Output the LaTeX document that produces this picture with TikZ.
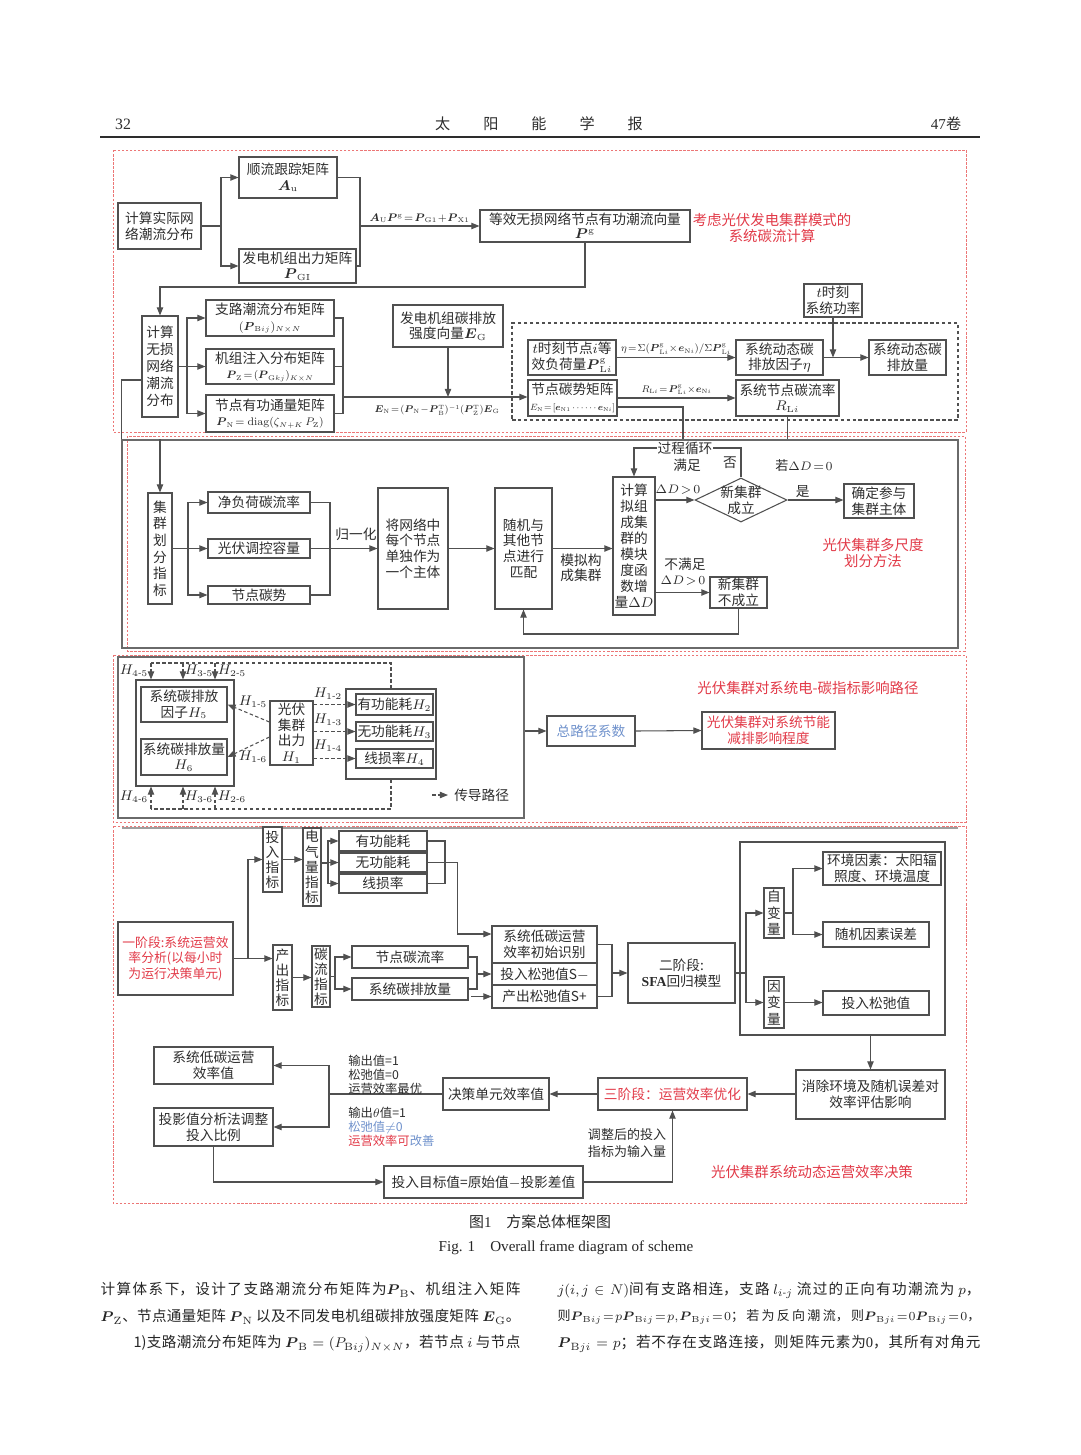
\documentclass[tikz,border=0pt]{standalone}
\usepackage{amsmath, amssymb}
\usepackage{graphicx}
\usepackage[no-math]{fontspec}
\setmainfont{Noto Sans CJK SC}
\newfontfamily\tnr{Liberation Serif}
\XeTeXlinebreaklocale "zh"
\XeTeXlinebreakskip=0pt plus 2pt
\usetikzlibrary{arrows.meta, shapes.geometric}

\definecolor{boxc}{RGB}{80,80,80}
\definecolor{txt}{RGB}{45,45,45}
\definecolor{lred}{RGB}{226,58,72}
\definecolor{dashred}{RGB}{236,118,118}
\definecolor{lblue}{RGB}{112,146,204}

\begin{document}
\begin{tikzpicture}[x=0.02cm, y=-0.02cm, line width=0.6pt, color=boxc,
  every node/.style={text=txt, font=\fontsize{7.8pt}{8.9pt}\selectfont},
  sz/.style 2 args={minimum width=#1*0.02cm, minimum height=#2*0.02cm},
  blk/.style={draw=boxc, fill=white, inner sep=0pt, align=center},
  vblk/.style={blk, font=\fontsize{7.8pt}{9.4pt}\selectfont},
  lab/.style={inner sep=1pt, align=center},
  eq/.style={lab, inner sep=0.5pt},
  rlab/.style={lab, text=lred, font=\fontsize{8.2pt}{9.6pt}\selectfont},
  arr/.style={draw=boxc, -{Triangle[length=4.6pt, width=3.6pt]}},
  darr/.style={arr, dash pattern=on 2pt off 1.4pt},
  dline/.style={draw=boxc, dash pattern=on 2pt off 1.4pt},
  secbox/.style={draw=dashred, line width=0.5pt, dash pattern=on 1.4pt off 0.9pt},
  frm/.style={draw=boxc!85, line width=0.7pt, inner sep=0pt},
  bodyl/.style={anchor=west, text width=8.4cm, align=justify, inner sep=0pt, text=black!85, font=\fontsize{8.3pt}{10pt}\selectfont}]
  \useasboundingbox[fill=white] (0,0) rectangle (1080,1455);

  % page header
  \node[font=\tnr\fontsize{9pt}{10pt}\selectfont] (pgno) at (123,124) {32};
  \node[font=\fontsize{8.6pt}{10pt}\selectfont] (journal) at (539,124) {太\hspace{0.66cm}阳\hspace{0.66cm}能\hspace{0.66cm}学\hspace{0.66cm}报};
  \node[font=\fontsize{8.6pt}{10pt}\selectfont] (vol) at (946,124) {{\tnr 47}卷};
  \draw[line width=0.9pt, color=txt] (100,137) -- (980,137);

  % red dashed sections
  \draw[secbox] (113,150) rectangle (966,432);
  \draw[secbox] (127,436) rectangle (965,651);
  \draw[secbox] (113,655) rectangle (966,822);
  \draw[secbox] (113,826) rectangle (966,1203);
  \node[frm, sz={836}{208}] (frame2) at (540,544) {};
  \node[frm, sz={406}{161}] (frame3) at (321,737.5) {};
  \draw[frm, draw=boxc!55] (122,828) -- (958,828);

  % carbon flow calculation
  \node[blk, sz={83}{46}] (actual) at (159.5,226) {计算实际网\\络潮流分布};
  \node[blk, sz={98}{41}] (track) at (288,177.5) {顺流跟踪矩阵\\$\boldsymbol{A}_{\mathrm{u}}$};
  \node[blk, sz={117}{34}] (genout) at (297.5,266) {发电机组出力矩阵\\$\boldsymbol{P}_{\mathrm{GI}}$};
  \node[blk, sz={210}{32}] (pgvec) at (585,226) {等效无损网络节点有功潮流向量\\[-1pt]$\boldsymbol{P}^{\mathrm{g}}$};
  \node[rlab] (title1) at (772,228) {考虑光伏发电集群模式的\\系统碳流计算};
  \node[vblk, font=\fontsize{7.8pt}{9.6pt}\selectfont, sz={36}{101}] (lossless) at (160,366.5) {计算\\无损\\网络\\潮流\\分布};
  \node[blk, sz={128}{36}] (branchm) at (270,318) {支路潮流分布矩阵\\\resizebox{1.25cm}{!}{$(\boldsymbol{P}_{\mathrm{B}ij})_{N\times N}$}};
  \node[blk, sz={128}{35}] (injm) at (270,366.5) {机组注入分布矩阵\\\resizebox{1.75cm}{!}{$\boldsymbol{P}_{\mathrm{Z}}\!=\!(\boldsymbol{P}_{\mathrm{G}kj})_{K\times N}$}};
  \node[blk, sz={128}{37}] (fluxm) at (270,413.5) {节点有功通量矩阵\\\resizebox{2.15cm}{!}{$\boldsymbol{P}_{\mathrm{N}}\!=\mathrm{diag}(\zeta_{N+K}\,P_{\mathrm{Z}})$}};
  \node[blk, sz={110}{42}] (emis) at (448,326) {发电机组碳排放\\强度向量$\boldsymbol{E}_{\mathrm{G}}$};
  \node[dline, inner sep=0pt, sz={446}{97}] (grp) at (735,371.5) {};
  \node[blk, sz={88}{35}] (tload) at (572,357.5) {$t$时刻节点$i$等\\效负荷量$\boldsymbol{P}^{\mathrm{g}}_{\mathrm{L}i}$};
  \node[blk, sz={89}{36}] (ncarb) at (572.5,398) {节点碳势矩阵\\\resizebox{1.7cm}{!}{$E_{\mathrm{N}}\!=\![\boldsymbol{e}_{\mathrm{N}1}\cdots\cdots\boldsymbol{e}_{\mathrm{N}i}]$}};
  \node[blk, sz={87}{35}] (dynf) at (779.5,357.5) {系统动态碳\\排放因子$\eta$};
  \node[blk, sz={77}{35}] (dyne) at (907.5,357.5) {系统动态碳\\排放量};
  \node[blk, sz={58}{33}] (power) at (833,300.5) {$t$时刻\\系统功率};
  \node[blk, sz={103}{36}] (rate) at (787.5,398) {系统节点碳流率\\$R_{\mathrm{L}i}$};

  \coordinate (split1) at (221,226);
  \coordinate (join1) at (360,226);
  \draw (actual.east) -- (split1);
  \draw[arr] (split1) |- (track.west);
  \draw[arr] (split1) |- (genout.west);
  \draw (track.east) -| (join1) |- (genout.east);
  \draw[arr] (join1) -- (pgvec.west) node[eq, midway, above=1pt] (eqau) {\resizebox{2.0cm}{!}{$\boldsymbol{A}_{\mathrm{U}}\boldsymbol{P}^{\mathrm{g}}\!=\!\boldsymbol{P}_{\mathrm{G1}}\!+\!\boldsymbol{P}_{\mathrm{X1}}$}};
  \draw[arr] (pgvec.south) |- (lossless.north |- 0,287) -- (lossless.north);
  \coordinate (split2) at (187,366.5);
  \draw (lossless.east) -- (split2);
  \draw[arr] (split2) |- (branchm.west);
  \draw[arr] (split2) |- (injm.west);
  \draw[arr] (split2) |- (fluxm.west);
  \coordinate (join2) at (343,397);
  \draw (branchm.east) -| (join2) |- (fluxm.east);
  \draw (injm.east) -- (injm.east -| join2);
  \draw[arr] (join2) -- (join2 -| ncarb.west);
  \draw[arr] (emis.south) -- (emis.south |- join2);
  \node[eq] (eqen) at (437,410) {\resizebox{2.5cm}{!}{$\boldsymbol{E}_{\mathrm{N}}\!=\!(\boldsymbol{P}_{\mathrm{N}}\!-\!\boldsymbol{P}^{\mathrm{T}}_{\mathrm{B}})^{-1}(\boldsymbol{P}^{\mathrm{T}}_{\mathrm{Z}})\boldsymbol{E}_{\mathrm{G}}$}};
  \draw[arr] (tload.east) -- (dynf.west) node[eq, midway, above=1pt] (eqeta) {\resizebox{2.2cm}{!}{$\eta\!=\!\Sigma(\boldsymbol{P}^{\mathrm{g}}_{\mathrm{L}i}\!\times\!\boldsymbol{e}_{\mathrm{N}i})/\Sigma\boldsymbol{P}^{\mathrm{g}}_{\mathrm{L}i}$}};
  \draw[arr] (dynf.east) -- (dyne.west);
  \draw[arr] (power.south) -- (power.south |- dynf.east);
  \draw[arr] (ncarb.east) -- (rate.west) node[eq, midway, above=1pt] (eqrl) {\resizebox{1.4cm}{!}{$R_{\mathrm{L}i}\!=\!\boldsymbol{P}^{\mathrm{g}}_{\mathrm{L}i}\!\times\!\boldsymbol{e}_{\mathrm{N}i}$}};
  \draw (ncarb.east |- 0,407) -| (frame2.north -| 683,0);
  \draw (rate.south) -- (rate.south |- frame2.north);
  \draw (lossless.west |- 0,380) -| (frame2.north west);

  % multi-scale cluster partition
  \node[vblk, sz={24}{111}] (clusidx) at (160,548.5) {集\\群\\划\\分\\指\\标};
  \node[blk, sz={102}{21}] (netload) at (259,502.5) {净负荷碳流率};
  \node[blk, sz={102}{19}] (pvcap) at (259,548.5) {光伏调控容量};
  \node[blk, sz={102}{18}] (ncpot) at (259,595) {节点碳势};
  \node[blk, sz={70}{121}] (single) at (413,548.5) {将网络中\\每个节点\\单独作为\\一个主体};
  \node[blk, sz={57}{121}] (match) at (523.5,548.5) {随机与\\其他节\\点进行\\匹配};
  \node[blk, font=\fontsize{7.8pt}{9.1pt}\selectfont, sz={42}{138}] (modul) at (634,546) {计算\\拟组\\成集\\群的\\模块\\度函\\数增\\量$\Delta D$};
  \node[draw=boxc, fill=white, diamond, aspect=2.1, inner xsep=0pt, inner ysep=-2pt, minimum width=1.84cm, minimum height=0.88cm, align=center] (newc) at (741,500) {新集群\\成立};
  \node[blk, sz={70}{34}] (confirm) at (879,501) {确定参与\\集群主体};
  \node[blk, sz={57}{31}] (notnew) at (738.5,592.5) {新集群\\不成立};
  \node[rlab] (title2) at (873,553) {光伏集群多尺度\\划分方法};

  \draw[arr] (frame2.north -| clusidx.north) -- (clusidx.north);
  \coordinate (split3) at (188,548.5);
  \draw (clusidx.east) -- (split3);
  \draw[arr] (split3) |- (netload.west);
  \draw[arr] (split3) |- (pvcap.west);
  \draw[arr] (split3) |- (ncpot.west);
  \draw (netload.east) -| (ncpot.east -| 330,0) -- (ncpot.east);
  \draw[arr] (pvcap.east) -- (pvcap.east -| single.west);
  \node[lab] (norm) at (356,534) {归一化};
  \draw[arr] (single.east) -- (match.west);
  \draw[arr] (match.east) -- (match.east -| modul.west);
  \node[lab] (simul) at (581,568) {模拟构\\成集群};
  \draw[arr] (modul.east |- newc.west) -- (newc.west);
  \node[lab, font=\fontsize{6.6pt}{8pt}\selectfont] (dpos) at (678,490) {$\Delta D\!>\!0$};
  \draw[arr] (newc.east) -- (newc.east -| confirm.west) node[lab, pos=0.27, above] (yes) {是};
  \node[lab, font=\fontsize{7.4pt}{8pt}\selectfont] (dzero) at (804,466) {若$\Delta D\!=\!0$};
  \draw[arr] (newc.north) |- (modul.north |- 0,448) -- (modul.north);
  \node[lab, fill=white, inner sep=0.5pt] (loopl) at (685,448) {过程循环};
  \node[lab] (meet) at (687,465) {满足};
  \node[lab] (no) at (730,463) {否};
  \draw[arr] (modul.east |- notnew.west) -- (notnew.west);
  \node[lab] (unmeet) at (685,564) {不满足};
  \node[lab, font=\fontsize{6.6pt}{8pt}\selectfont] (dpos2) at (683,581) {$\Delta D\!>\!0$};
  \draw[arr] (notnew.south) |- (match.south |- 0,634) -- (match.south);

  % influence paths of the PV cluster
  \node[blk, sz={98}{106}] (carbgrp) at (185,733) {};
  \node[blk, sz={86}{35}] (hfive) at (184,704.5) {系统碳排放\\因子$H_5$};
  \node[blk, sz={86}{36}] (hsix) at (184,757) {系统碳排放量\\$H_6$};
  \node[blk, sz={43}{64}] (hone) at (291.5,733) {光伏\\集群\\出力\\$H_1$};
  \node[blk, sz={90}{90}] (elecgrp) at (391,734) {};
  \node[blk, sz={77}{21}] (htwo) at (394.5,704.5) {有功能耗$H_2$};
  \node[blk, sz={77}{19}] (hthree) at (394.5,731.5) {无功能耗$H_3$};
  \node[blk, sz={77}{19}] (hfour) at (394.5,758.5) {线损率$H_4$};
  \node[blk, text=lblue, sz={88}{30}] (total) at (591,731) {总路径系数};
  \node[blk, text=lred, sz={133}{37}] (impact) at (768.5,730.5) {光伏集群对系统节能\\减排影响程度};
  \node[rlab] (title3) at (808,688) {光伏集群对系统电-碳指标影响路径};

  \draw[darr] (hone.east |- htwo.west) -- (htwo.west);
  \draw[darr] (hone.east |- hthree.west) -- (hthree.west);
  \draw[darr] (hone.east |- hfour.west) -- (hfour.west);
  \node[lab] (h12) at (328,694) {$H_{1\text{-}2}$};
  \node[lab] (h13) at (328,720) {$H_{1\text{-}3}$};
  \node[lab] (h14) at (328,746) {$H_{1\text{-}4}$};
  \draw[darr] (hone.west |- 0,722) -- (hfive.east);
  \draw[darr] (hone.west |- 0,737) -- (hsix.east);
  \node[lab] (h15) at (253,702) {$H_{1\text{-}5}$};
  \node[lab] (h16) at (253,757) {$H_{1\text{-}6}$};
  \draw[dline] (elecgrp.north) |- (151,663);
  \foreach \xx in {151,183,215} \draw[darr] (\xx,663) -- (carbgrp.north -| \xx,0);
  \draw[dline] (elecgrp.south) |- (151,809);
  \foreach \xx in {151,183,215} \draw[darr] (\xx,809) -- (carbgrp.south -| \xx,0);
  \node[lab] (h45) at (134,671) {$H_{4\text{-}5}$};
  \node[lab] (h35) at (199,671) {$H_{3\text{-}5}$};
  \node[lab] (h25) at (232,671) {$H_{2\text{-}5}$};
  \node[lab] (h46) at (134,797) {$H_{4\text{-}6}$};
  \node[lab] (h36) at (199,797) {$H_{3\text{-}6}$};
  \node[lab] (h26) at (232,797) {$H_{2\text{-}6}$};
  \coordinate (legs) at (432,795);
  \draw[darr] (legs) -- ++(16,0);
  \node[lab, anchor=west] (legt) at (452,795) {传导路径};
  \draw[arr] (frame3.east |- total.west) -- (total.west);
  \draw[arr] (total.east) -- (impact.west);

  % dynamic operating efficiency decision
  \node[blk, text=lred, font=\fontsize{7.3pt}{8.9pt}\selectfont, sz={115}{73}] (stagea) at (175.5,958.5) {一阶段:系统运营效\\率分析(以每小时\\为运行决策单元)};
  \node[vblk, font=\fontsize{7.8pt}{8.6pt}\selectfont, sz={19}{65}] (inind) at (272.5,859.5) {投\\入\\指\\标};
  \node[vblk, font=\fontsize{7.8pt}{8.6pt}\selectfont, sz={18}{78}] (elecind) at (312,867) {电\\气\\量\\指\\标};
  \node[blk, sz={88}{20}] (actl) at (383,841) {有功能耗};
  \node[blk, sz={88}{19}] (reactl) at (383,862.5) {无功能耗};
  \node[blk, sz={88}{19}] (lossr) at (383,883.5) {线损率};
  \node[vblk, font=\fontsize{7.8pt}{8.6pt}\selectfont, sz={19}{65}] (outind) at (282.5,977.5) {产\\出\\指\\标};
  \node[vblk, font=\fontsize{7.8pt}{8.6pt}\selectfont, sz={18}{61}] (cfind) at (321,976.5) {碳\\流\\指\\标};
  \node[blk, sz={116}{22}] (ncrate) at (410,957) {节点碳流率};
  \node[blk, sz={116}{22}] (semis) at (410,989) {系统碳排放量};
  \node[blk, sz={105}{37}] (lcid) at (544.5,944.5) {系统低碳运营\\效率初始识别};
  \node[blk, sz={105}{22}] (islk) at (544.5,974) {投入松弛值S$-$};
  \node[blk, sz={105}{23}] (oslk) at (544.5,996.5) {产出松弛值S+};
  \node[blk, sz={107}{60}] (sfabox) at (681.5,973) {二阶段:\\{\tnr\bfseries SFA}回归模型};
  \node[blk, sz={205}{193}] (bigv) at (842.5,938.5) {};
  \node[vblk, sz={20}{50}] (indep) at (774,913) {自\\变\\量};
  \node[vblk, sz={20}{51}] (depv) at (774,1002.5) {因\\变\\量};
  \node[blk, sz={118}{33}] (envf) at (882,868.5) {环境因素：太阳辐\\照度、环境温度};
  \node[blk, sz={106}{25}] (randf) at (876,934.5) {随机因素误差};
  \node[blk, sz={106}{24}] (islkb) at (876,1003) {投入松弛值};
  \node[blk, sz={149}{49}] (elim) at (870.5,1094.5) {消除环境及随机误差对\\效率评估影响};
  \node[blk, text=lred, sz={149}{32}] (stagec) at (672.5,1094) {三阶段：运营效率优化};
  \node[blk, sz={106}{32}] (decv) at (496,1094) {决策单元效率值};
  \node[blk, sz={119}{37}] (lcval) at (213.5,1065.5) {系统低碳运营\\效率值};
  \node[blk, sz={119}{38}] (projv) at (213.5,1127) {投影值分析法调整\\投入比例};
  \node[blk, sz={199}{32}] (target) at (483.5,1182) {投入目标值=原始值$-$投影差值};
  \node[rlab] (title4) at (812,1172) {光伏集群系统动态运营效率决策};

  \coordinate (split4) at (248,958.5);
  \draw[arr] (stagea.east) -- (stagea.east -| outind.west);
  \draw[arr] (split4) |- (inind.west);
  \draw[arr] (inind.east) -- (inind.east -| elecind.west);
  \coordinate (split5) at (328,863);
  \draw (elecind.east |- split5) -- (split5);
  \draw[arr] (split5) |- (actl.west);
  \draw[arr] (split5) |- (reactl.west);
  \draw[arr] (split5) |- (lossr.west);
  \draw (actl.east) -| (lossr.east -| 445,0) -- (lossr.east);
  \draw[arr] (reactl.east) -- ++(30,0) |- (lcid.west |- 0,934);
  \draw[arr] (outind.east) -- (outind.east -| cfind.west);
  \coordinate (split6) at (335,976.5);
  \draw (cfind.east) -- (split6);
  \draw[arr] (split6) |- (ncrate.west);
  \draw[arr] (split6) |- (semis.west);
  \draw (ncrate.east) -| (semis.east -| 477,0) -- (semis.east);
  \draw[arr] (islk.west -| 477,0) -- (islk.west);
  \draw[arr] (oslk.west -| 471,0) -- (oslk.west);
  \draw (lcid.east) -| (oslk.east -| 612,0) -- (oslk.east);
  \draw[arr] (sfabox.west -| 612,0) -- (sfabox.west);
  \coordinate (split7) at (746,973);
  \draw (sfabox.east) -- (split7);
  \draw[arr] (split7) |- (indep.west);
  \draw[arr] (split7) |- (depv.west);
  \coordinate (split8) at (793,913);
  \draw (indep.east) -- (split8);
  \draw[arr] (split8) |- (envf.west);
  \draw[arr] (split8) |- (randf.west);
  \draw[arr] (depv.east) -- (depv.east -| islkb.west);
  \draw[arr] (elim.north |- bigv.south) -- (elim.north);
  \draw[arr] (elim.west |- stagec.east) -- (stagec.east);
  \draw[arr] (stagec.west) -- (decv.east);
  \coordinate (split9) at (329,1094);
  \draw (decv.west) -- (split9);
  \draw[arr] (split9) |- (lcval.east);
  \draw[arr] (split9) |- (projv.east);
  \node[lab, anchor=north west, align=left, font=\fontsize{7pt}{7.9pt}\selectfont] (optl) at (346,1053) {输出值=1\\松弛值=0\\运营效率最优};
  \node[lab, anchor=north west, align=left, font=\fontsize{7pt}{7.9pt}\selectfont] (imprl) at (346,1105) {输出$\theta$值=1\\\textcolor{lblue}{松弛值$\neq$0}\\\textcolor{lred}{运营效率可}\textcolor{lblue}{改善}};
  \draw[arr] (projv.south) |- (target.west);
  \draw[arr] (target.east) -| (stagec.south);
  \node[lab, font=\fontsize{7.4pt}{9.4pt}\selectfont] (adjl) at (627,1143) {调整后的投入\\指标为输入量};

  % caption and body text
  \node[font=\fontsize{8.5pt}{10pt}\selectfont, text=black!85] (capcn) at (540,1222) {图{\tnr 1}\quad 方案总体框架图};
  \node[font=\tnr\fontsize{8.6pt}{10pt}\selectfont, text=black!85] (capen) at (566,1248) {Fig. 1\quad Overall frame diagram of scheme};
  \node[bodyl] (la) at (100,1290) {\tolerance=10000\parfillskip=0pt\relax 计算体系下，设计了支路潮流分布矩阵为$\boldsymbol{P}_{\mathrm{B}}$、机组注入矩阵\par};
  \node[bodyl] (lb) at (100,1317) {\tolerance=10000\parfillskip=0pt\relax $\boldsymbol{P}_{\mathrm{Z}}$、节点通量矩阵 $\boldsymbol{P}_{\mathrm{N}}$ 以及不同发电机组碳排放强度矩阵 $\boldsymbol{E}_{\mathrm{G}}$。\par};
  \node[bodyl, text width=7.74cm] (lc) at (133,1344) {\tolerance=10000\parfillskip=0pt\relax 1)支路潮流分布矩阵为 $\boldsymbol{P}_{\mathrm{B}}=(P_{\mathrm{B}ij})_{N\times N}$，若节点 $i$ 与节点\par};
  \node[bodyl, text width=8.46cm] (ra) at (557,1290) {\tolerance=10000\parfillskip=0pt\relax $j(i,j\in N)$间有支路相连，支路 $l_{i\text{-}j}$ 流过的正向有功潮流为 $p$，\par};
  \node[bodyl, text width=8.46cm, font=\fontsize{7.4pt}{10pt}\selectfont] (rb) at (557,1317) {\tolerance=10000\thickmuskip=1.5mu\medmuskip=1mu\thinmuskip=1mu\parfillskip=0pt\relax 则$\boldsymbol{P}_{\mathrm{B}ij}=p\boldsymbol{P}_{\mathrm{B}ij}=p,\boldsymbol{P}_{\mathrm{B}ji}=0$；若为反向潮流，则$\boldsymbol{P}_{\mathrm{B}ji}=0\boldsymbol{P}_{\mathrm{B}ij}=0$，\par};
  \node[bodyl, text width=8.46cm] (rc) at (557,1344) {\tolerance=10000\parfillskip=0pt\relax $\boldsymbol{P}_{\mathrm{B}ji}=p$；若不存在支路连接，则矩阵元素为{\tnr 0}，其所有对角元\par};
\end{tikzpicture}
\end{document}
